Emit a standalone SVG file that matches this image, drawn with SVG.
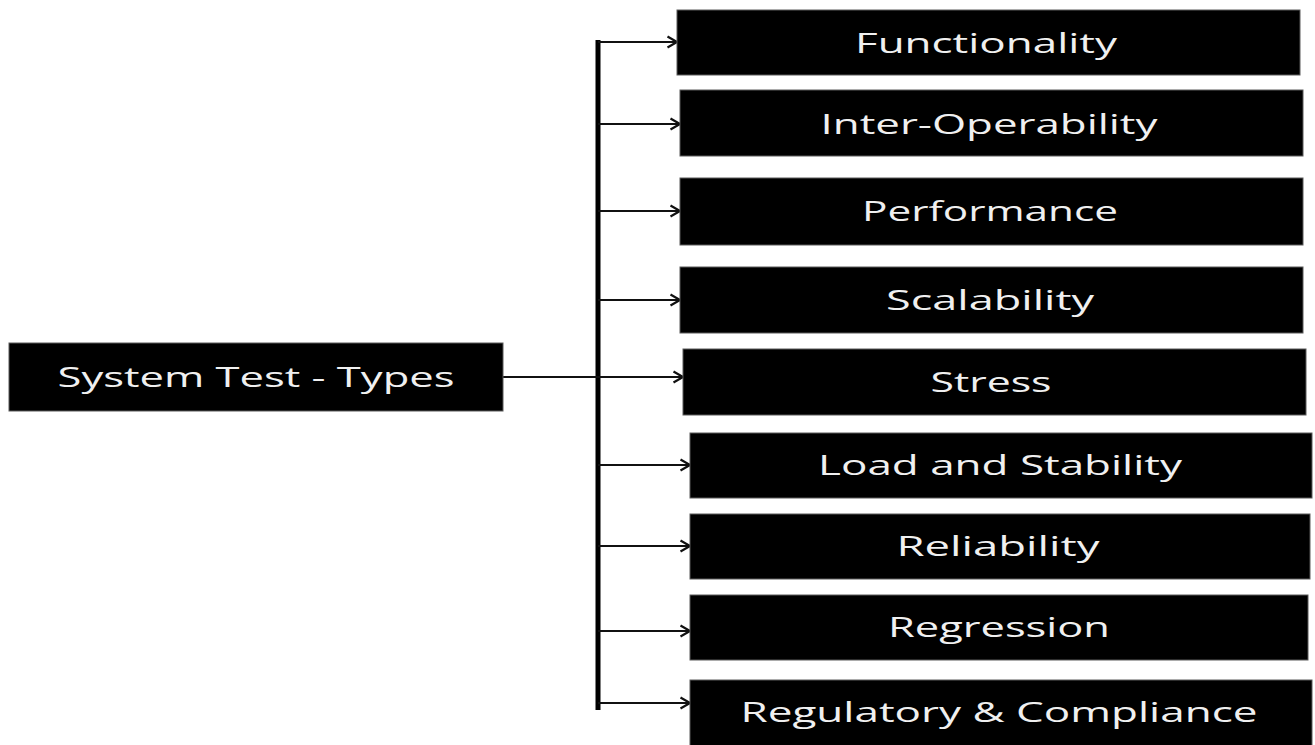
<svg xmlns="http://www.w3.org/2000/svg" width="1315" height="745" viewBox="0 0 1315 745">
  <style>
    .box { fill: #000000; stroke: #5a5a5a; stroke-width: 1; }
    .label { fill: #f0f0f0; font-family: "Open Sans", "Liberation Sans", sans-serif; font-size: 28px; text-anchor: middle; }
    .link { stroke: #111111; stroke-width: 2; fill: none; }
    .trunk { stroke: #000000; stroke-width: 5; fill: none; }
  </style>
  <defs>
    <marker id="arrow" markerUnits="userSpaceOnUse" markerWidth="14" markerHeight="14" refX="11" refY="7" orient="auto">
      <path d="M1.5,1.5 L11,7 L1.5,12.5" fill="none" stroke="#111111" stroke-width="2.2"/>
    </marker>
  </defs>
  <rect width="1315" height="745" fill="#ffffff"/>

  <!-- connectors -->
  <g id="connectors">
    <line class="trunk" x1="598" y1="40" x2="598" y2="710"/>
    <line class="link" x1="503" y1="377" x2="683" y2="377" marker-end="url(#arrow)"/>
    <line class="link" x1="598" y1="42" x2="677" y2="42" marker-end="url(#arrow)"/>
    <line class="link" x1="598" y1="124" x2="680" y2="124" marker-end="url(#arrow)"/>
    <line class="link" x1="598" y1="211" x2="680" y2="211" marker-end="url(#arrow)"/>
    <line class="link" x1="598" y1="300" x2="680" y2="300" marker-end="url(#arrow)"/>
    <line class="link" x1="598" y1="465" x2="690" y2="465" marker-end="url(#arrow)"/>
    <line class="link" x1="598" y1="546" x2="690" y2="546" marker-end="url(#arrow)"/>
    <line class="link" x1="598" y1="631" x2="690" y2="631" marker-end="url(#arrow)"/>
    <line class="link" x1="598" y1="703" x2="690" y2="703" marker-end="url(#arrow)"/>
  </g>

  <!-- root node -->
  <g id="system-test-types">
    <rect class="box" x="9" y="343" width="494" height="68"/>
    <text class="label" x="256" y="387" textLength="397" lengthAdjust="spacingAndGlyphs">System Test - Types</text>
  </g>

  <!-- test type nodes -->
  <g id="functionality">
    <rect class="box" x="677" y="10" width="623" height="65"/>
    <text class="label" x="986" y="53" textLength="262" lengthAdjust="spacingAndGlyphs">Functionality</text>
  </g>
  <g id="inter-operability">
    <rect class="box" x="680" y="90" width="623" height="66"/>
    <text class="label" x="989" y="134" textLength="337" lengthAdjust="spacingAndGlyphs">Inter-Operability</text>
  </g>
  <g id="performance">
    <rect class="box" x="680" y="178" width="623" height="67"/>
    <text class="label" x="990" y="221" textLength="256" lengthAdjust="spacingAndGlyphs">Performance</text>
  </g>
  <g id="scalability">
    <rect class="box" x="680" y="267" width="623" height="66"/>
    <text class="label" x="990" y="310" textLength="208" lengthAdjust="spacingAndGlyphs">Scalability</text>
  </g>
  <g id="stress">
    <rect class="box" x="683" y="349" width="623" height="66"/>
    <text class="label" x="991" y="392" textLength="121" lengthAdjust="spacingAndGlyphs">Stress</text>
  </g>
  <g id="load-and-stability">
    <rect class="box" x="690" y="433" width="622" height="65"/>
    <text class="label" x="1000" y="475" textLength="364" lengthAdjust="spacingAndGlyphs">Load and Stability</text>
  </g>
  <g id="reliability">
    <rect class="box" x="690" y="514" width="620" height="65"/>
    <text class="label" x="998" y="556" textLength="203" lengthAdjust="spacingAndGlyphs">Reliability</text>
  </g>
  <g id="regression">
    <rect class="box" x="690" y="595" width="618" height="65"/>
    <text class="label" x="999" y="637" textLength="222" lengthAdjust="spacingAndGlyphs">Regression</text>
  </g>
  <g id="regulatory-compliance">
    <rect class="box" x="690" y="680" width="622" height="66"/>
    <text class="label" x="999" y="722" textLength="517" lengthAdjust="spacingAndGlyphs">Regulatory &amp; Compliance</text>
  </g>
</svg>
